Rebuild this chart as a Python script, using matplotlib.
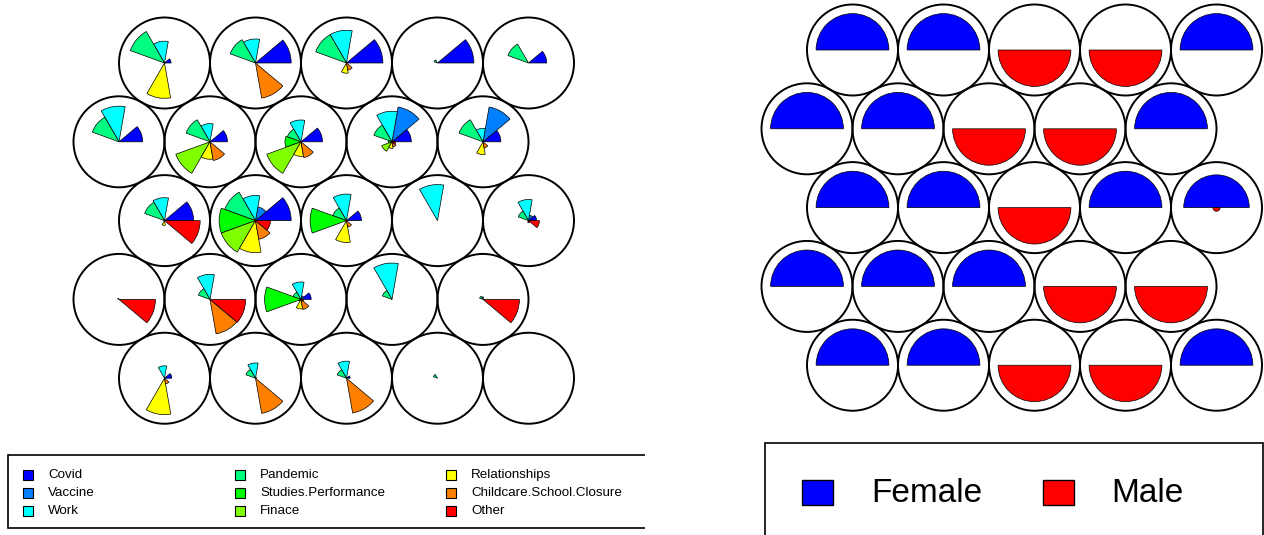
import matplotlib.pyplot as plt
import numpy as np
from matplotlib.patches import Circle, Rectangle, Wedge

plt.rcParams["font.family"] = ["Liberation Sans", "DejaVu Sans"]

W, H = 1264, 535

# topic codebook vectors, scaled 0..1 per topic, one list per map row (top to bottom)
topics = ["Covid", "Vaccine", "Work", "Pandemic", "Studies.Performance",
          "Finace", "Relationships", "Childcare.School.Closure", "Other"]
topic_colors = ["#0000FF", "#0080FF", "#00FFFF", "#00FF80", "#00FF00",
                "#80FF00", "#FFFF00", "#FF8000", "#FF0000"]

codes_row1 = [
    [0.18, 0.00, 0.60, 1.00, 0.00, 0.00, 0.97, 0.02, 0.00],
    [0.98, 0.00, 0.66, 0.74, 0.00, 0.00, 0.00, 0.98, 0.00],
    [1.00, 0.00, 0.90, 0.90, 0.00, 0.00, 0.28, 0.20, 0.00],
    [1.00, 0.00, 0.00, 0.10, 0.00, 0.00, 0.00, 0.00, 0.00],
    [0.50, 0.00, 0.00, 0.60, 0.00, 0.00, 0.00, 0.00, 0.00],
]
codes_row2 = [
    [0.65, 0.00, 0.98, 0.78, 0.00, 0.00, 0.00, 0.00, 0.00],
    [0.48, 0.00, 0.50, 0.70, 0.00, 1.00, 0.48, 0.52, 0.00],
    [0.59, 0.00, 0.60, 0.40, 0.44, 1.00, 0.40, 0.44, 0.00],
    [0.53, 0.97, 0.84, 0.53, 0.10, 0.30, 0.18, 0.14, 0.10],
    [0.49, 0.97, 0.37, 0.70, 0.00, 0.00, 0.35, 0.17, 0.00],
]
codes_row3 = [
    [0.80, 0.00, 0.63, 0.58, 0.00, 0.00, 0.13, 0.00, 0.98],
    [0.98, 0.38, 0.69, 0.90, 1.00, 1.00, 0.88, 0.52, 0.41],
    [0.41, 0.00, 0.73, 0.40, 1.00, 0.00, 0.60, 0.18, 0.00],
    [0.00, 0.00, 0.99, 0.00, 0.00, 0.00, 0.00, 0.00, 0.00],
    [0.22, 0.15, 0.58, 0.30, 0.00, 0.00, 0.05, 0.05, 0.30],
]
codes_row4 = [
    [0.00, 0.00, 0.00, 0.04, 0.00, 0.00, 0.00, 0.00, 1.00],
    [0.00, 0.00, 0.69, 0.34, 0.00, 0.00, 0.00, 0.96, 0.98],
    [0.28, 0.10, 0.48, 0.23, 1.00, 0.05, 0.26, 0.28, 0.07],
    [0.00, 0.00, 1.00, 0.28, 0.00, 0.00, 0.00, 0.00, 0.00],
    [0.00, 0.00, 0.07, 0.10, 0.00, 0.00, 0.00, 0.00, 1.00],
]
codes_row5 = [
    [0.20, 0.00, 0.34, 0.00, 0.00, 0.00, 1.00, 0.16, 0.00],
    [0.03, 0.00, 0.42, 0.28, 0.00, 0.00, 0.00, 0.98, 0.00],
    [0.10, 0.00, 0.47, 0.27, 0.00, 0.00, 0.00, 0.97, 0.00],
    [0.00, 0.00, 0.00, 0.12, 0.00, 0.00, 0.00, 0.00, 0.00],
    [0.00, 0.00, 0.00, 0.00, 0.00, 0.00, 0.00, 0.00, 0.00],
]
topic_codes = codes_row1 + codes_row2 + codes_row3 + codes_row4 + codes_row5

# gender codebook, same unit order
genders = ["Female", "Male"]
gender_colors = ["#0000FF", "#FF0000"]
female = [1, 1, 0, 0, 1,
          1, 1, 0, 0, 1,
          1, 1, 0, 1, 0.9,
          1, 1, 1, 0, 0,
          1, 1, 0, 0, 1]
male = [0, 0, 1, 1, 0,
        0, 0, 1, 1, 0,
        0, 0, 1, 0, 0.1,
        0, 0, 0, 1, 1,
        0, 0, 1, 1, 0]

XDIM, YDIM = 5, 5
STEP = np.sqrt(3) / 2


def hex_grid():
    pts = []
    for r in range(YDIM):
        for c in range(XDIM):
            pts.append((c + (0.5 if r % 2 == 0 else 0.0), -r * STEP))
    return pts


def make_axes(fig, px_left, px_right, x0_px, y0_px, unit=91.0):
    ax = fig.add_axes([px_left / W, 0, (px_right - px_left) / W, 1])
    ax.set_xlim((px_left - x0_px) / unit, (px_right - x0_px) / unit)
    ax.set_ylim((y0_px - H) / unit, y0_px / unit)
    ax.set_axis_off()
    return ax


def draw_units(ax, codes, colors):
    n = len(colors)
    span = 360.0 / n
    for (x, y), vals in zip(hex_grid(), codes):
        ax.add_patch(Circle((x, y), 0.5, fill=False, ec="black", lw=1.4))
        for k, v in enumerate(vals):
            if v <= 0:
                continue
            ax.add_patch(Wedge((x, y), 0.4 * v, k * span, (k + 1) * span,
                               fc=colors[k], ec="black", lw=0.5))


def box(ax, x0, y0, x1, y1):
    # legend frame in pixel coordinates, clipped by the axes
    ax.add_patch(Rectangle((x0 / W, 1 - y1 / H), (x1 - x0) / W, (y1 - y0) / H,
                           transform=ax.figure.transFigure, fill=False,
                           ec="black", lw=1.2, clip_on=True,
                           clip_box=ax.bbox))


fig = plt.figure(figsize=(W / 100, H / 100), dpi=100)

# topic map
ax1 = make_axes(fig, 0, 645, 119, 63)
draw_units(ax1, topic_codes, topic_colors)
box(ax1, 8, 455, 700, 528)
col_x = [28, 240, 451]
row_y = [475, 493, 511]
for i, (name, col) in enumerate(zip(topics, topic_colors)):
    cx, cy = col_x[i // 3], row_y[i % 3]
    fig.patches.append(Rectangle(((cx - 5) / W, 1 - (cy + 5) / H), 10 / W, 10 / H,
                                 transform=fig.transFigure, fc=col, ec="black", lw=0.8))
    fig.text((cx + 20) / W, 1 - cy / H, name, fontsize=9.6, va="center", ha="left")

# gender map
gender_codes = [[f, m] for f, m in zip(female, male)]
ax2 = make_axes(fig, 700, W, 807, 50)
draw_units(ax2, gender_codes, gender_colors)
box(ax2, 765, 443, 1263, 600)
for name, col, sx, tx in zip(genders, gender_colors, [802, 1043], [871, 1111]):
    fig.patches.append(Rectangle((sx / W, 1 - 505 / H), 31 / W, 25 / H,
                                 transform=fig.transFigure, fc=col, ec="black", lw=1.0))
    fig.text(tx / W, 1 - 494 / H, name, fontsize=24, va="center", ha="left")

fig.savefig("out.png", dpi=100)
